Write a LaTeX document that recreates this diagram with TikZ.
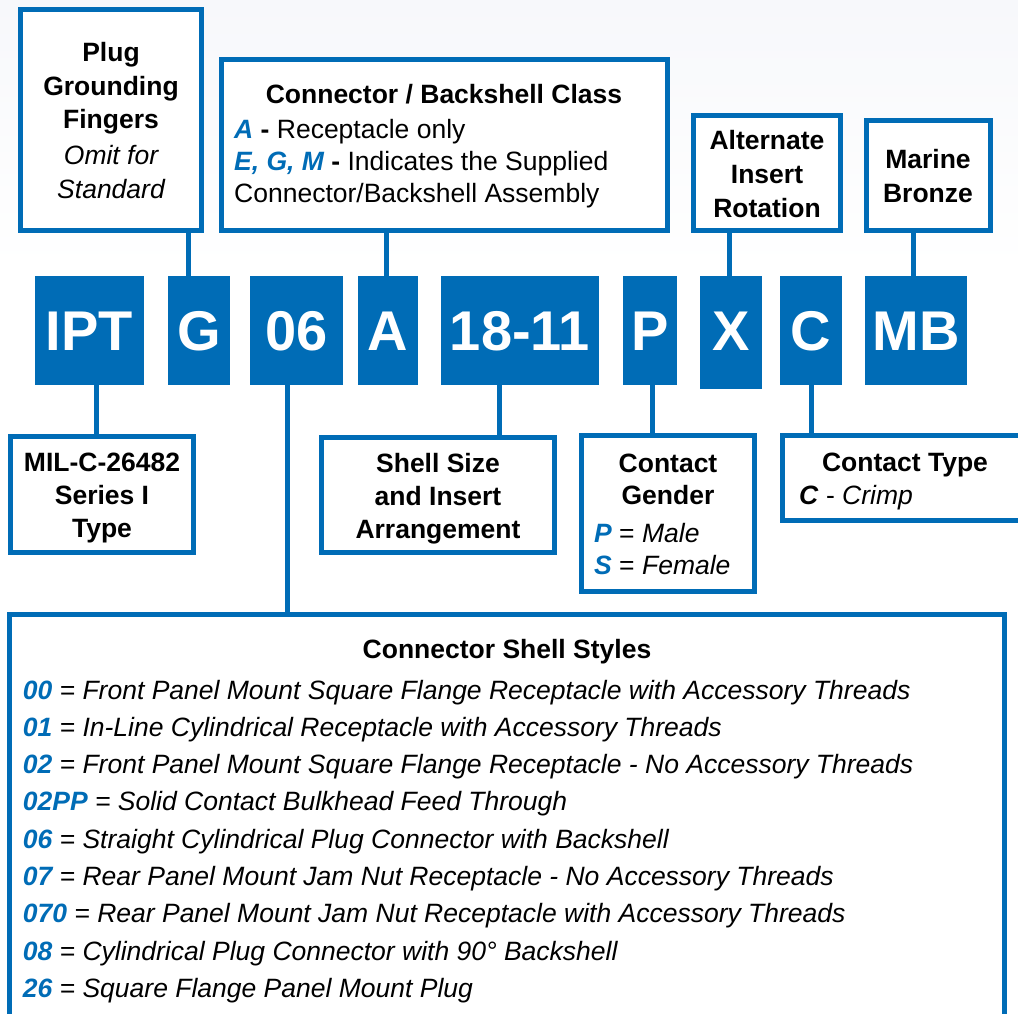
\documentclass[tikz,border=0pt]{standalone}
\usepackage{fontspec}
\setmainfont{Liberation Sans}
\definecolor{bl}{RGB}{0,108,182}
\definecolor{bgtop}{RGB}{247,248,251}
\newcommand{\cd}[1]{{\bfseries\itshape\color{bl}#1}}
\begin{document}
\begin{tikzpicture}[x=1pt,y=-1pt,
  frame/.style={draw=bl,line width=5pt,fill=white,inner sep=0pt,outer sep=0pt,anchor=north west},
  code/.style={fill=bl,draw=none,text=white,inner sep=0pt,outer sep=0pt,anchor=north west,
    font=\fontsize{56}{60}\selectfont\bfseries,text height=40.7pt,text depth=0pt},
  link/.style={draw=bl,line width=5pt},
  t/.style={anchor=base,inner sep=0pt,font=\fontsize{26.5}{30}\selectfont},
  tl/.style={anchor=base west,inner sep=0pt,font=\fontsize{26.5}{30}\selectfont},
]
\useasboundingbox (0,0) rectangle (1018,1014);
\clip (0,0) rectangle (1018,1014);
\fill[white] (0,0) rectangle (1018,1014);
\shade[top color=bgtop,bottom color=white] (0,0) rectangle (1018,270);

% link x positions
\coordinate (xg) at (188,0);
\coordinate (xa) at (386,0);
\coordinate (xx) at (729,0);
\coordinate (xm) at (913,0);
\coordinate (xi) at (96,0);
\coordinate (xs) at (287,0);
\coordinate (xz) at (499,0);
\coordinate (xp) at (652,0);
\coordinate (xc) at (811,0);

% code blocks
\node[code,minimum width=109pt,minimum height=109pt] (ipt) at (35,276) {IPT};
\node[code,minimum width=62pt,minimum height=109pt] (g) at (168,276) {G};
\node[code,minimum width=93pt,minimum height=109pt] (six) at (250,276) {06};
\node[code,minimum width=60pt,minimum height=109pt] (a) at (358,276) {A};
\node[code,minimum width=158pt,minimum height=109pt] (size) at (441,276) {18-11};
\node[code,minimum width=54pt,minimum height=109pt] (p) at (623,276) {P};
\node[code,minimum width=62pt,minimum height=113pt,text depth=4pt] (x) at (700,276) {X};
\node[code,minimum width=62pt,minimum height=109pt] (c) at (780,276) {C};
\node[code,minimum width=102pt,minimum height=109pt] (mb) at (865,276) {MB};

% top frames
\node[frame,minimum width=181pt,minimum height=221pt] (pgf) at (20.5,9.5) {};
\node[frame,minimum width=446pt,minimum height=171pt] (cbc) at (221.5,59.5) {};
\node[frame,minimum width=147pt,minimum height=115pt] (air) at (693.5,115.5) {};
\node[frame,minimum width=124pt,minimum height=110pt] (mbx) at (866.5,120.5) {};

% bottom frames
\node[frame,minimum width=183pt,minimum height=116pt] (mil) at (10.5,436.5) {};
\node[frame,minimum width=233pt,minimum height=115pt] (shell) at (321.5,437.5) {};
\node[frame,minimum width=173pt,minimum height=156pt] (gen) at (581.5,435.5) {};
\node[frame,minimum width=250pt,minimum height=85pt] (ctype) at (782.5,435.5) {};
\node[frame,minimum width=995pt,minimum height=420pt] (styles) at (9.5,614.7) {};

% connectors
\draw[link] (pgf.south -| xg) -- (g.north -| xg);
\draw[link] (cbc.south -| xa) -- (a.north -| xa);
\draw[link] (air.south -| xx) -- (x.north -| xx);
\draw[link] (mbx.south -| xm) -- (mb.north -| xm);
\draw[link] (ipt.south -| xi) -- (mil.north -| xi);
\draw[link] (six.south -| xs) -- (styles.north -| xs);
\draw[link] (size.south -| xz) -- (shell.north -| xz);
\draw[link] (p.south -| xp) -- (gen.north -| xp);
\draw[link] (c.south -| xc) -- (ctype.north -| xc);

% texts: plug grounding fingers
\node[t,font=\fontsize{26.5}{30}\selectfont\bfseries] (pgf1) at (111,62) {Plug};
\node[t,font=\fontsize{26.5}{30}\selectfont\bfseries] (pgf2) at (111,96) {Grounding};
\node[t,font=\fontsize{26.5}{30}\selectfont\bfseries] (pgf3) at (111,129) {Fingers};
\node[t,font=\fontsize{26.5}{30}\selectfont\itshape] (pgf4) at (111,165) {Omit for};
\node[t,font=\fontsize{26.5}{30}\selectfont\itshape] (pgf5) at (111,198) {Standard};

% connector / backshell class
\node[t,font=\fontsize{26.5}{30}\selectfont\bfseries] (cbc1) at (444,104) {Connector / Backshell Class};
\node[tl] (cbc2) at (234,139) {\cd{A} \textbf{-} Receptacle only};
\node[tl] (cbc3) at (234,171) {\cd{E, G, M} \textbf{-} Indicates the Supplied};
\node[tl] (cbc4) at (234,203) {Connector/Backshell Assembly};

% alternate insert rotation
\node[t,font=\fontsize{26.5}{30}\selectfont\bfseries] (air1) at (767,150) {Alternate};
\node[t,font=\fontsize{26.5}{30}\selectfont\bfseries] (air2) at (767,183) {Insert};
\node[t,font=\fontsize{26.5}{30}\selectfont\bfseries] (air3) at (767,217) {Rotation};

% marine bronze
\node[t,font=\fontsize{26.5}{30}\selectfont\bfseries] (mbx1) at (928,168) {Marine};
\node[t,font=\fontsize{26.5}{30}\selectfont\bfseries] (mbx2) at (928,202) {Bronze};

% MIL
\node[t,font=\fontsize{26.5}{30}\selectfont\bfseries] (mil1) at (102,471) {MIL-C-26482};
\node[t,font=\fontsize{26.5}{30}\selectfont\bfseries] (mil2) at (102,504) {Series I};
\node[t,font=\fontsize{26.5}{30}\selectfont\bfseries] (mil3) at (102,537) {Type};

% shell size
\node[t,font=\fontsize{26.5}{30}\selectfont\bfseries] (sh1) at (438,472) {Shell Size};
\node[t,font=\fontsize{26.5}{30}\selectfont\bfseries] (sh2) at (438,505) {and Insert};
\node[t,font=\fontsize{26.5}{30}\selectfont\bfseries] (sh3) at (438,538) {Arrangement};

% contact gender
\node[t,font=\fontsize{26.5}{30}\selectfont\bfseries] (gen1) at (668,472) {Contact};
\node[t,font=\fontsize{26.5}{30}\selectfont\bfseries] (gen2) at (668,504) {Gender};
\node[tl] (gen3) at (594,542) {\cd{P} = \textit{Male}};
\node[tl] (gen4) at (594,574) {\cd{S} = \textit{Female}};

% contact type
\node[t,font=\fontsize{26.5}{30}\selectfont\bfseries] (ct1) at (905,471) {Contact Type};
\node[tl] (ct2) at (799,504) {\textbf{\textit{C}} - \textit{Crimp}};

% connector shell styles
\node[t,font=\fontsize{26.5}{30}\selectfont\bfseries] (st0) at (507,658) {Connector Shell Styles};
\node[tl,font=\fontsize{26.5}{30}\selectfont\itshape] (st1) at (22.7,699) {\cd{00} = Front Panel Mount Square Flange Receptacle with Accessory Threads};
\node[tl,font=\fontsize{26.5}{30}\selectfont\itshape] (st2) at (22.7,736.3) {\cd{01} = In-Line Cylindrical Receptacle with Accessory Threads};
\node[tl,font=\fontsize{26.5}{30}\selectfont\itshape] (st3) at (22.7,773.6) {\cd{02} = Front Panel Mount Square Flange Receptacle - No Accessory Threads};
\node[tl,font=\fontsize{26.5}{30}\selectfont\itshape] (st4) at (22.7,810.9) {\cd{02PP} = Solid Contact Bulkhead Feed Through};
\node[tl,font=\fontsize{26.5}{30}\selectfont\itshape] (st5) at (22.7,848.2) {\cd{06} = Straight Cylindrical Plug Connector with Backshell};
\node[tl,font=\fontsize{26.5}{30}\selectfont\itshape] (st6) at (22.7,885.5) {\cd{07} = Rear Panel Mount Jam Nut Receptacle - No Accessory Threads};
\node[tl,font=\fontsize{26.5}{30}\selectfont\itshape] (st7) at (22.7,922.8) {\cd{070} = Rear Panel Mount Jam Nut Receptacle with Accessory Threads};
\node[tl,font=\fontsize{26.5}{30}\selectfont\itshape] (st8) at (22.7,960.1) {\cd{08} = Cylindrical Plug Connector with 90° Backshell};
\node[tl,font=\fontsize{26.5}{30}\selectfont\itshape] (st9) at (22.7,997.4) {\cd{26} = Square Flange Panel Mount Plug};
\end{tikzpicture}
\end{document}
